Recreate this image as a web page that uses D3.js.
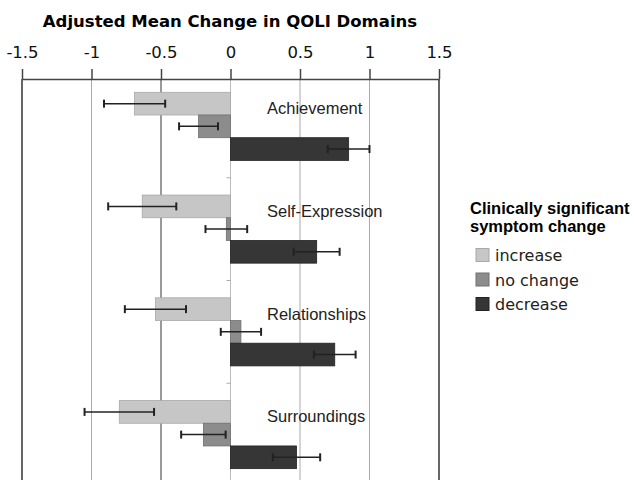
<!DOCTYPE html>
<html>
<head>
<meta charset="utf-8">
<script src="https://cdn.jsdelivr.net/npm/d3@7"></script>
<style>
  body { margin: 0; background: #fff; }
  svg { display: block; }
</style>
</head>
<body>
<svg id="chart" width="634" height="480"></svg>
<script>
const domains = ["Achievement", "Self-Expression", "Relationships", "Surroundings"];
const series = ["increase", "no change", "decrease"];
const increaseMeans = [-0.69, -0.635, -0.54, -0.80];
const increaseErrors = [0.22, 0.245, 0.22, 0.25];
const noChangeMeans = [-0.23, -0.03, 0.075, -0.195];
const noChangeErrors = [0.14, 0.15, 0.145, 0.16];
const decreaseMeans = [0.85, 0.62, 0.75, 0.475];
const decreaseErrors = [0.15, 0.165, 0.15, 0.17];
const tickValues = [-1.5, -1, -0.5, 0, 0.5, 1, 1.5];
const tickLabels = ["-1.5", "-1", "-0.5", "0", "0.5", "1", "1.5"];
const colors = ["#c6c6c6", "#8c8c8c", "#363636"];
const strokes = ["#a8a8a8", "#707070", "#222222"];

const svg = d3.select("#chart");

const x = d3.scaleLinear().domain([-1.5, 1.5]).range([22, 439]);
const y = d3.scaleBand().domain(domains).range([75, 486]);
const ySeries = d3.scaleBand().domain(series).range([17.3, 85.4]);

const rows = [];
domains.forEach((d, i) => {
  rows.push({ domain: d, series: "increase", k: 0, mean: increaseMeans[i], err: increaseErrors[i] });
  rows.push({ domain: d, series: "no change", k: 1, mean: noChangeMeans[i], err: noChangeErrors[i] });
  rows.push({ domain: d, series: "decrease", k: 2, mean: decreaseMeans[i], err: decreaseErrors[i] });
});

// title
svg.append("text")
  .attr("x", 230)
  .attr("y", 27)
  .attr("text-anchor", "middle")
  .style("font-family", "DejaVu Sans, Verdana, sans-serif")
  .style("font-weight", "bold")
  .style("font-size", "16.5px")
  .text("Adjusted Mean Change in QOLI Domains");

// grid lines
svg.selectAll("line.grid")
  .data([-1, -0.5, 0.5, 1])
  .enter()
  .append("line")
  .attr("class", "grid")
  .attr("x1", (d) => x(d))
  .attr("x2", (d) => x(d))
  .attr("y1", 79)
  .attr("y2", 480)
  .attr("stroke", (d) => (d === -0.5 ? "#999" : "#aaa"))
  .attr("stroke-width", (d) => (d === -0.5 ? 2 : 1));

// frame sides
svg.selectAll("line.frame")
  .data([-1.5, 1.5])
  .enter()
  .append("line")
  .attr("class", "frame")
  .attr("x1", (d) => x(d))
  .attr("x2", (d) => x(d))
  .attr("y1", 79)
  .attr("y2", 480)
  .attr("stroke", "#666")
  .attr("stroke-width", 2);

// zero line
svg.append("line")
  .attr("x1", x(0))
  .attr("x2", x(0))
  .attr("y1", 79)
  .attr("y2", 480)
  .attr("stroke", "#bbb")
  .attr("stroke-width", 1);

// small ticks between domains
svg.selectAll("line.ytick")
  .data(domains.slice(1))
  .enter()
  .append("line")
  .attr("class", "ytick")
  .attr("x1", x(0) - 4)
  .attr("x2", x(0))
  .attr("y1", (d) => y(d))
  .attr("y2", (d) => y(d))
  .attr("stroke", "#aaa");

// top axis
const axis = d3.axisTop(x)
  .tickValues(tickValues)
  .tickFormat((d, i) => tickLabels[i])
  .tickSize(10)
  .tickSizeOuter(0);

const axisG = svg.append("g")
  .attr("transform", "translate(0,79)")
  .call(axis);
axisG.select(".domain").attr("stroke", "#444").attr("stroke-width", 1.5);
axisG.selectAll(".tick line").attr("stroke", "#444").attr("stroke-width", 1.5);
axisG.selectAll(".tick text")
  .attr("y", -21)
  .style("font-family", "DejaVu Sans, Verdana, sans-serif")
  .style("font-size", "16.5px")
  .attr("fill", "#111");

// bars
const bars = svg.selectAll("g.bar")
  .data(rows)
  .enter()
  .append("g")
  .attr("class", "bar")
  .attr("transform", (r) => "translate(0," + (y(r.domain) + ySeries(r.series)) + ")");

bars.append("rect")
  .attr("x", (r) => x(Math.min(0, r.mean)))
  .attr("width", (r) => Math.abs(x(r.mean) - x(0)))
  .attr("height", ySeries.bandwidth())
  .attr("fill", (r) => colors[r.k])
  .attr("stroke", (r) => strokes[r.k])
  .attr("stroke-width", 0.8);

// error bars
const h = ySeries.bandwidth() / 2;
bars.append("line")
  .attr("x1", (r) => x(r.mean - r.err))
  .attr("x2", (r) => x(r.mean + r.err))
  .attr("y1", h)
  .attr("y2", h)
  .attr("stroke", "#222")
  .attr("stroke-width", 1.5);

bars.selectAll("line.cap")
  .data((r) => [r.mean - r.err, r.mean + r.err])
  .enter()
  .append("line")
  .attr("class", "cap")
  .attr("x1", (v) => x(v))
  .attr("x2", (v) => x(v))
  .attr("y1", h - 4)
  .attr("y2", h + 4)
  .attr("stroke", "#222")
  .attr("stroke-width", 2);

// domain labels
svg.selectAll("text.domain-label")
  .data(domains)
  .enter()
  .append("text")
  .attr("class", "domain-label")
  .attr("x", 267)
  .attr("y", (d) => y(d) + ySeries("no change") - 1)
  .style("font-family", "Liberation Sans, Arial, sans-serif")
  .style("font-size", "16.5px")
  .attr("fill", "#222")
  .text((d) => d);

// legend
const legend = svg.append("g").attr("transform", "translate(470,0)");
legend.selectAll("text.ltitle")
  .data(["Clinically significant", "symptom change"])
  .enter()
  .append("text")
  .attr("class", "ltitle")
  .attr("x", 0)
  .attr("y", (d, i) => 214 + i * 17.5)
  .style("font-family", "Liberation Sans, Arial, sans-serif")
  .style("font-weight", "bold")
  .style("font-size", "16.5px")
  .text((d) => d);

const items = legend.selectAll("g.legend-item")
  .data(series)
  .enter()
  .append("g")
  .attr("class", "legend-item")
  .attr("transform", (d, i) => "translate(6," + (255 + i * 24.5) + ")");

items.append("rect")
  .attr("x", 0)
  .attr("y", -6.5)
  .attr("width", 13)
  .attr("height", 13)
  .attr("fill", (d, i) => colors[i])
  .attr("stroke", (d, i) => strokes[i]);

items.append("text")
  .attr("x", 19)
  .attr("y", 6)
  .style("font-family", "DejaVu Sans, Verdana, sans-serif")
  .style("font-size", "16px")
  .attr("fill", "#222")
  .text((d) => d);
</script>
</body>
</html>
